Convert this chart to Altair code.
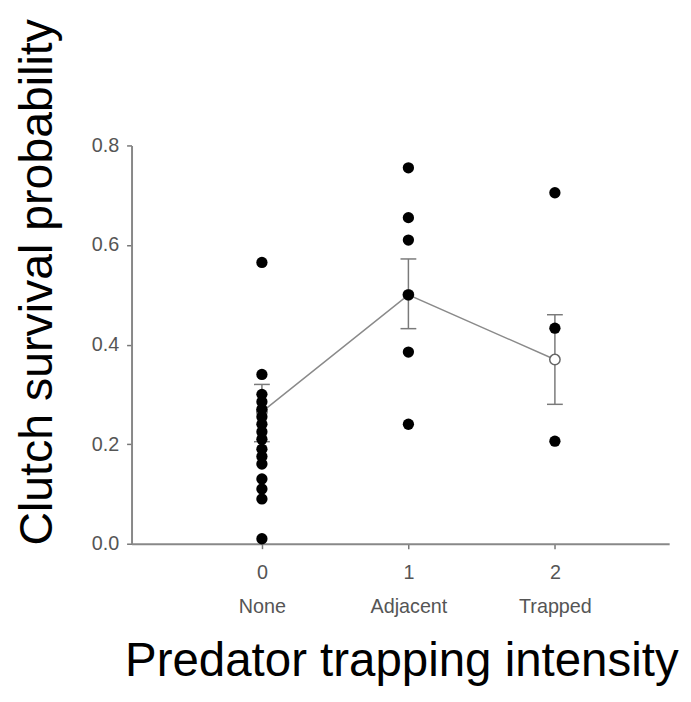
import altair as alt
import pandas as pd

# Data
group_codes = [0, 1, 2]
group_names = ["None", "Adjacent", "Trapped"]

survival_none = [0.565, 0.34, 0.30, 0.285, 0.27, 0.255, 0.24, 0.225, 0.21,
                 0.19, 0.175, 0.16, 0.13, 0.11, 0.09, 0.01]
survival_adjacent = [0.755, 0.655, 0.61, 0.50, 0.385, 0.24]
survival_trapped = [0.705, 0.433, 0.206]

mean_values = [0.265, 0.50, 0.37]
lower_values = [0.205, 0.432, 0.28]
upper_values = [0.32, 0.572, 0.46]

y_ticks = [0.0, 0.2, 0.4, 0.6, 0.8]

points = pd.DataFrame({
    "group": [0] * len(survival_none) + [1] * len(survival_adjacent) + [2] * len(survival_trapped),
    "survival": survival_none + survival_adjacent + survival_trapped,
})
means = pd.DataFrame({
    "group": group_codes,
    "mean": mean_values,
    "lo": lower_values,
    "hi": upper_values,
})

label_array = "[" + ",".join("'" + n + "'" for n in group_names) + "]"

x_scale = alt.Scale(domain=[-0.89, 2.78], nice=False, zero=False)
y_scale = alt.Scale(domain=[0, 0.8], nice=False, zero=False)

x_axis = alt.Axis(
    values=group_codes,
    format="d",
    title="Predator trapping intensity",
    labelExpr="[datum.label, " + label_array + "[datum.value]]",
    labelLineHeight=35,
    labelBaseline="top",
    labelPadding=14,
    labelFontSize=20,
    labelColor="#555555",
    labelFont="Liberation Sans",
    tickSize=5,
    tickColor="#777777",
    tickWidth=1.5,
    domainColor="#888888",
    domainWidth=2,
    grid=False,
    titleFont="Liberation Sans",
    titleFontSize=48,
    titleFontWeight="normal",
    titleColor="black",
    titleX=273,
    titleY=133,
    titleAlign="center",
    titleBaseline="alphabetic",
)

y_axis = alt.Axis(
    values=y_ticks,
    format=".1f",
    title="Clutch survival probability",
    labelFontSize=20,
    labelColor="#555555",
    labelFont="Liberation Sans",
    labelPadding=8,
    tickSize=5,
    tickColor="#777777",
    tickWidth=1.5,
    domainColor="#888888",
    domainWidth=2,
    grid=False,
    titleFont="Liberation Sans",
    titleFontSize=47,
    titleFontWeight="normal",
    titleColor="black",
    titleAngle=270,
    titleX=-81,
    titleY=138,
    titleAlign="center",
    titleBaseline="alphabetic",
)

base_means = alt.Chart(means)

line = base_means.mark_line(color="#8a8a8a", strokeWidth=1.5).encode(
    x=alt.X("group:Q", scale=x_scale, axis=x_axis),
    y=alt.Y("mean:Q", scale=y_scale, axis=y_axis),
)

err = base_means.mark_rule(color="#7a7a7a", strokeWidth=1.5).encode(
    x=alt.X("group:Q", scale=x_scale),
    y=alt.Y("lo:Q", scale=y_scale),
    y2="hi:Q",
)

cap_lo = base_means.mark_tick(orient="horizontal", color="#7a7a7a", size=16, thickness=1.5, opacity=1).encode(
    x=alt.X("group:Q", scale=x_scale),
    y=alt.Y("lo:Q", scale=y_scale),
)
cap_hi = base_means.mark_tick(orient="horizontal", color="#7a7a7a", size=16, thickness=1.5, opacity=1).encode(
    x=alt.X("group:Q", scale=x_scale),
    y=alt.Y("hi:Q", scale=y_scale),
)

mean_pts = base_means.mark_circle(color="white", stroke="#666666", strokeWidth=1.5, size=110, opacity=1).encode(
    x=alt.X("group:Q", scale=x_scale),
    y=alt.Y("mean:Q", scale=y_scale),
)

dots = alt.Chart(points).mark_circle(color="black", size=130, opacity=1).encode(
    x=alt.X("group:Q", scale=x_scale),
    y=alt.Y("survival:Q", scale=y_scale),
)

chart = alt.layer(line, err, cap_lo, cap_hi, mean_pts, dots).properties(
    width=544,
    height=403,
    autosize=alt.AutoSizeParams(type="none"),
    padding={"left": 125, "top": 135, "right": 14, "bottom": 150},
).configure_view(stroke=None)

chart.save("out.html", embed_options={"renderer": "svg", "actions": False})
